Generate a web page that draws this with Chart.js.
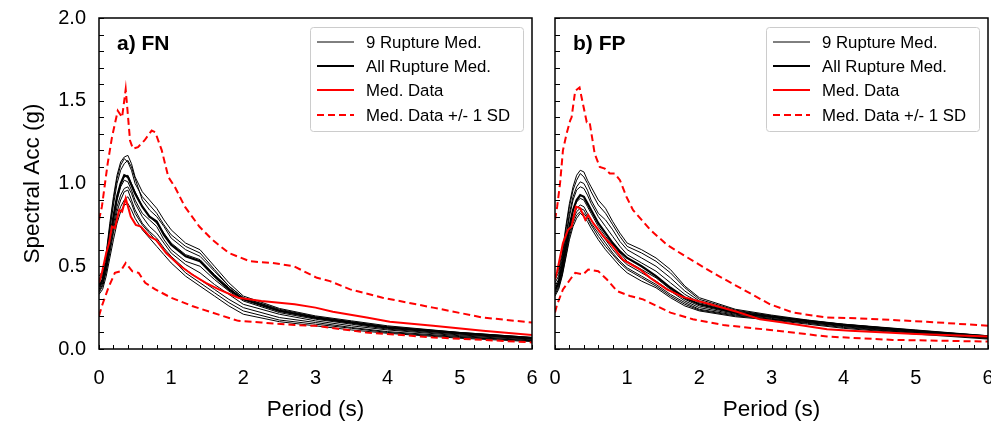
<!DOCTYPE html>
<html><head><meta charset="utf-8">
<script src="https://cdn.jsdelivr.net/npm/chart.js@4/dist/chart.umd.min.js"></script>
<style>
html,body{margin:0;padding:0;background:#fff;overflow:hidden;width:991px;height:424px;}
#wa{position:absolute;left:0;top:0;width:545px;height:424px;}
#wb{position:absolute;left:545px;top:0;width:460px;height:424px;}
</style></head><body>
<div id="wa"><canvas id="ca"></canvas></div>
<div id="wb"><canvas id="cb"></canvas></div>
<script>
// ---------- shared ----------
const periods = [0,0.05,0.1,0.15,0.2,0.25,0.3,0.35,0.4,0.45,0.5,0.6,0.7,0.8,0.9,1.0,1.2,1.4,1.6,1.8,2.0,2.5,3.0,3.5,4.0,5.0,6.0];
const xTickLabels = ['0','1','2','3','4','5','6'];
const yTickLabels = ['0.0','0.5','1.0','1.5','2.0'];
const legendLabels = ['9 Rupture Med.','All Rupture Med.','Med. Data','Med. Data +/- 1 SD'];
const panelLabels = ['a) FN','b) FP'];
const xTitle = 'Period (s)';
const yTitle = 'Spectral Acc (g)';

// ---------- a) FN ----------
const fnRup1 = [0.42,0.46,0.58,0.76,0.92,1.05,1.13,1.16,1.17,1.12,1.04,0.95,0.90,0.85,0.78,0.72,0.64,0.60,0.50,0.40,0.32,0.245,0.20,0.17,0.14,0.10,0.07];
const fnRup2 = [0.40,0.45,0.56,0.74,0.90,1.03,1.11,1.15,1.13,1.08,1.00,0.92,0.87,0.82,0.75,0.69,0.62,0.58,0.48,0.38,0.31,0.24,0.195,0.165,0.135,0.10,0.07];
const fnRup3 = [0.44,0.47,0.57,0.72,0.87,1.00,1.08,1.12,1.14,1.10,1.03,0.90,0.84,0.80,0.74,0.67,0.60,0.56,0.47,0.38,0.31,0.235,0.19,0.16,0.13,0.095,0.065];
const fnRup4 = [0.38,0.42,0.52,0.66,0.80,0.92,1.00,1.04,1.05,1.00,0.95,0.86,0.80,0.76,0.70,0.64,0.57,0.54,0.45,0.37,0.30,0.23,0.185,0.155,0.125,0.09,0.06];
const fnRup5 = [0.36,0.40,0.50,0.64,0.78,0.90,0.98,1.02,1.01,0.96,0.90,0.82,0.78,0.74,0.66,0.60,0.53,0.50,0.42,0.35,0.29,0.22,0.18,0.15,0.12,0.085,0.06];
const fnRup6 = [0.37,0.41,0.50,0.62,0.75,0.86,0.93,0.97,0.98,0.94,0.88,0.80,0.74,0.70,0.64,0.58,0.51,0.46,0.39,0.33,0.27,0.21,0.17,0.14,0.115,0.08,0.055];
const fnRup7 = [0.34,0.38,0.47,0.60,0.72,0.83,0.90,0.95,0.96,0.90,0.84,0.76,0.71,0.67,0.61,0.56,0.48,0.42,0.36,0.30,0.25,0.19,0.16,0.13,0.105,0.075,0.05];
const fnRup8 = [0.35,0.39,0.47,0.58,0.70,0.80,0.86,0.90,0.92,0.88,0.82,0.75,0.70,0.65,0.60,0.55,0.46,0.40,0.34,0.28,0.23,0.175,0.15,0.125,0.10,0.07,0.05];
const fnRup9 = [0.33,0.36,0.44,0.55,0.66,0.76,0.83,0.87,0.88,0.84,0.79,0.72,0.67,0.62,0.57,0.52,0.44,0.38,0.32,0.26,0.21,0.165,0.14,0.115,0.095,0.065,0.045];
const fnAllRup = [0.38,0.42,0.52,0.66,0.80,0.92,1.00,1.05,1.04,0.99,0.94,0.86,0.80,0.77,0.69,0.63,0.56,0.53,0.44,0.36,0.30,0.23,0.19,0.16,0.13,0.095,0.065];
const fnMedT = [0,0.04,0.1,0.14,0.18,0.22,0.28,0.32,0.37,0.44,0.51,0.58,0.7,0.79,0.93,1.1,1.29,1.48,1.66,1.93,2.25,2.71,3.0,3.24,3.71,4.03,4.63,5.32,6.0];
const fnMed  = [0.40,0.46,0.58,0.64,0.74,0.73,0.84,0.83,0.91,0.80,0.75,0.74,0.68,0.66,0.58,0.51,0.45,0.40,0.36,0.31,0.29,0.27,0.25,0.225,0.19,0.165,0.14,0.11,0.085];
const fnUpT = [0,0.04,0.12,0.18,0.26,0.32,0.37,0.43,0.47,0.54,0.63,0.73,0.78,0.87,0.96,1.05,1.19,1.39,1.57,1.8,2.09,2.4,2.7,3.02,3.2,3.48,3.93,4.63,5.32,6.0];
const fnUp  = [0.78,0.86,1.12,1.28,1.44,1.40,1.57,1.26,1.21,1.22,1.26,1.32,1.31,1.20,1.04,0.98,0.86,0.74,0.66,0.58,0.53,0.52,0.50,0.43,0.41,0.36,0.31,0.25,0.19,0.16];
const fnLoT = [0,0.04,0.13,0.22,0.3,0.37,0.46,0.55,0.64,0.78,1.0,1.29,1.57,1.93,2.25,2.71,3.0,3.7,4.63,6.0];
const fnLo  = [0.20,0.26,0.37,0.46,0.47,0.52,0.47,0.46,0.40,0.36,0.31,0.26,0.22,0.17,0.16,0.145,0.14,0.10,0.07,0.04];

// ---------- b) FP ----------
const fpRup1 = [0.44,0.48,0.58,0.74,0.88,0.98,1.05,1.08,1.07,1.02,0.98,0.90,0.85,0.77,0.70,0.64,0.60,0.55,0.48,0.38,0.31,0.24,0.205,0.175,0.15,0.115,0.08];
const fpRup2 = [0.42,0.46,0.56,0.72,0.86,0.96,1.02,1.06,1.04,1.00,0.95,0.87,0.82,0.75,0.68,0.62,0.58,0.53,0.46,0.37,0.30,0.235,0.20,0.17,0.15,0.11,0.08];
const fpRup3 = [0.40,0.44,0.54,0.68,0.82,0.92,0.98,1.01,1.00,0.96,0.90,0.82,0.78,0.72,0.65,0.60,0.55,0.50,0.43,0.35,0.29,0.23,0.20,0.17,0.145,0.11,0.075];
const fpRup4 = [0.38,0.42,0.52,0.66,0.80,0.90,0.96,0.98,0.97,0.93,0.88,0.80,0.74,0.68,0.62,0.57,0.52,0.47,0.40,0.33,0.28,0.225,0.195,0.17,0.145,0.105,0.075];
const fpRup5 = [0.36,0.40,0.49,0.62,0.74,0.84,0.89,0.91,0.90,0.86,0.82,0.74,0.68,0.63,0.58,0.53,0.48,0.43,0.36,0.30,0.26,0.215,0.19,0.165,0.14,0.10,0.07];
const fpRup6 = [0.35,0.39,0.48,0.60,0.72,0.80,0.85,0.87,0.86,0.82,0.78,0.72,0.66,0.60,0.55,0.51,0.46,0.41,0.35,0.29,0.25,0.21,0.185,0.16,0.14,0.10,0.07];
const fpRup7 = [0.34,0.38,0.46,0.58,0.70,0.78,0.83,0.85,0.84,0.80,0.76,0.70,0.64,0.58,0.53,0.49,0.44,0.39,0.33,0.28,0.24,0.205,0.18,0.16,0.135,0.095,0.065];
const fpRup8 = [0.33,0.37,0.45,0.56,0.68,0.76,0.81,0.83,0.82,0.79,0.75,0.68,0.62,0.57,0.52,0.48,0.43,0.38,0.32,0.27,0.235,0.20,0.18,0.155,0.13,0.095,0.065];
const fpRup9 = [0.32,0.36,0.44,0.55,0.66,0.74,0.79,0.82,0.80,0.77,0.73,0.66,0.60,0.55,0.50,0.46,0.41,0.37,0.31,0.26,0.23,0.195,0.175,0.15,0.125,0.09,0.06];
const fpAllRup = [0.36,0.40,0.50,0.62,0.74,0.84,0.90,0.93,0.92,0.88,0.84,0.76,0.70,0.64,0.59,0.55,0.50,0.44,0.37,0.31,0.27,0.22,0.195,0.17,0.145,0.11,0.075];
const fpMedT = [0,0.03,0.11,0.18,0.23,0.29,0.35,0.42,0.46,0.53,0.67,0.8,0.94,1.18,1.32,1.55,1.77,2.15,2.52,2.84,3.16,3.77,4.09,5.0,6.0];
const fpMed  = [0.42,0.47,0.64,0.72,0.74,0.86,0.85,0.78,0.81,0.76,0.68,0.62,0.54,0.48,0.43,0.36,0.315,0.27,0.225,0.18,0.16,0.12,0.11,0.09,0.075];
const fpUpT = [0,0.03,0.07,0.11,0.16,0.21,0.23,0.28,0.34,0.44,0.48,0.55,0.62,0.69,0.76,0.83,0.9,0.99,1.08,1.32,1.55,1.77,2.15,2.52,2.98,3.3,3.77,4.22,5.15,6.0];
const fpUp  = [0.78,0.86,1.0,1.2,1.3,1.38,1.40,1.56,1.58,1.37,1.37,1.18,1.10,1.09,1.06,1.06,1.02,0.92,0.84,0.72,0.63,0.57,0.47,0.38,0.27,0.22,0.19,0.185,0.165,0.14];
const fpLoT = [0,0.03,0.11,0.21,0.28,0.39,0.46,0.6,0.72,0.86,1.04,1.22,1.41,1.6,1.91,2.33,2.98,3.77,4.68,6.0];
const fpLo  = [0.22,0.27,0.36,0.42,0.46,0.45,0.48,0.47,0.42,0.35,0.32,0.30,0.26,0.22,0.18,0.145,0.115,0.075,0.055,0.045];

// ---------- build ----------
Chart.defaults.font.family = '"Liberation Sans", Arial, Helvetica, sans-serif';
Chart.defaults.color = '#000';

function pts(T, V){ return T.map((t,i)=>({x:t, y:V[i]})); }

function makeDatasets(rups, all, medT, med, upT, up, loT, lo){
  const ds = [];
  ds.push({label:legendLabels[2], data:pts(medT,med), borderColor:'#ff0000', borderWidth:2});
  ds.push({label:legendLabels[3], data:pts(upT,up), borderColor:'#ff0000', borderWidth:2, borderDash:[7,4]});
  ds.push({label:legendLabels[3], data:pts(loT,lo), borderColor:'#ff0000', borderWidth:2, borderDash:[7,4]});
  ds.push({label:legendLabels[1], data:pts(periods,all), borderColor:'#000', borderWidth:2.2});
  rups.forEach(r=>ds.push({label:legendLabels[0], data:pts(periods,r), borderColor:'#000', borderWidth:1}));
  ds.forEach(d=>{ d.pointRadius=0; d.tension=0; d.fill=false; });
  return ds;
}

const yMinorTicks = Array.from({length:21},(_,i)=>i/10);
const xMinorTicks = Array.from({length:31},(_,i)=>i/5);

const panelPlugin = {
  id:'panel',
  afterDatasetsDraw(chart, args, opts){
    const {ctx, chartArea:a, scales:{x,y}} = chart;
    ctx.save();
    ctx.strokeStyle='#000'; ctx.lineWidth=1;
    ctx.beginPath();
    yMinorTicks.forEach(v=>{ const py=Math.round(y.getPixelForValue(v))+0.5; ctx.moveTo(a.left,py); ctx.lineTo(a.left+5,py); });
    xMinorTicks.forEach(v=>{ const px=Math.round(x.getPixelForValue(v))+0.5; ctx.moveTo(px,a.bottom); ctx.lineTo(px,a.bottom-4); });
    ctx.stroke();
    ctx.lineWidth=1.5;
    ctx.strokeRect(a.left, a.top, a.right-a.left, a.bottom-a.top);
    ctx.fillStyle='#000';
    ctx.font='bold 21px "Liberation Sans", Arial, sans-serif';
    ctx.textBaseline='alphabetic'; ctx.textAlign='left';
    ctx.fillText(opts.label, a.left+18, a.top+32);
    const bl=a.right-222, bt=a.top+9, bw=213, bh=104;
    ctx.fillStyle='rgba(255,255,255,0.9)';
    ctx.strokeStyle='#cccccc'; ctx.lineWidth=1;
    ctx.beginPath();
    if (ctx.roundRect) ctx.roundRect(bl+0.5, bt+0.5, bw, bh, 3); else ctx.rect(bl+0.5,bt+0.5,bw,bh);
    ctx.fill(); ctx.stroke();
    const dsets = chart.data.datasets;
    const items = [dsets[4], dsets[3], dsets[0], dsets[1]];
    const rows = [15, 39, 63, 88];
    ctx.font='16.8px "Liberation Sans", Arial, sans-serif';
    ctx.textBaseline='middle';
    items.forEach((d,i)=>{
      const yy = bt+rows[i];
      ctx.strokeStyle=d.borderColor; ctx.lineWidth=d.borderWidth;
      ctx.setLineDash(d.borderDash||[]);
      ctx.beginPath(); ctx.moveTo(bl+7,yy); ctx.lineTo(bl+44,yy); ctx.stroke();
      ctx.setLineDash([]);
      ctx.fillStyle='#000';
      ctx.fillText(legendLabels[i], bl+56, yy+1);
    });
    ctx.restore();
  }
};

function makeChart(id, datasets, label, showY, padRight){
  return new Chart(document.getElementById(id), {
    type:'line',
    data:{datasets},
    plugins:[panelPlugin],
    options:{
      responsive:true, maintainAspectRatio:false, animation:false,
      layout:{padding:{left:0, top:18, right:padRight, bottom:0}},
      plugins:{legend:{display:false}, tooltip:{enabled:false}, panel:{label}},
      scales:{
        x:{type:'linear', min:0, max:6,
           grid:{display:false, drawTicks:false}, border:{display:false},
           ticks:{stepSize:1, padding:17, font:{size:20}, color:'#000', maxRotation:0, autoSkip:false,
                  callback:v=>xTickLabels[Math.round(v)]},
           title:{display:true, text:xTitle, font:{size:22.5}, color:'#000', padding:{top:0, bottom:1}},
           afterFit(s){ s.height=75; s.paddingLeft=0; s.paddingRight=0; }},
        y:{type:'linear', min:0, max:2,
           grid:{display:false, drawTicks:false}, border:{display:false},
           ticks:{display:showY, stepSize:0.5, padding:13, font:{size:20}, color:'#000',
                  callback:v=>yTickLabels[Math.round(v/0.5)]},
           title:{display:showY, text:yTitle, font:{size:22.5}, color:'#000', padding:{top:19, bottom:0}},
           afterFit(s){ s.width = showY ? 99 : 10; s.paddingTop=0; s.paddingBottom=0; }}
      }
    }
  });
}

makeChart('ca', makeDatasets([fnRup1,fnRup2,fnRup3,fnRup4,fnRup5,fnRup6,fnRup7,fnRup8,fnRup9], fnAllRup, fnMedT, fnMed, fnUpT, fnUp, fnLoT, fnLo), panelLabels[0], true, 13);
makeChart('cb', makeDatasets([fpRup1,fpRup2,fpRup3,fpRup4,fpRup5,fpRup6,fpRup7,fpRup8,fpRup9], fpAllRup, fpMedT, fpMed, fpUpT, fpUp, fpLoT, fpLo), panelLabels[1], false, 17);
</script>
</body></html>
